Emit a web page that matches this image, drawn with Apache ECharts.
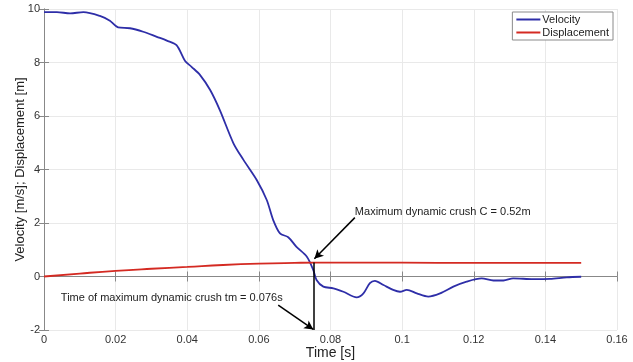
<!DOCTYPE html>
<html><head><meta charset="utf-8">
<script src="https://cdn.jsdelivr.net/npm/echarts@6/dist/echarts.min.js"></script>
<style>html,body{margin:0;padding:0;background:#fff}#c{width:633px;height:362px}</style>
</head><body><div id="c"></div>
<script>
const xTicks = [0, 0.02, 0.04, 0.06, 0.08, 0.1, 0.12, 0.14, 0.16];
const yTicks = [-2, 0, 2, 4, 6, 8, 10];
const velT = [0, 0.0036, 0.0073, 0.011, 0.0156, 0.0184, 0.0207, 0.024, 0.0277, 0.0315, 0.0343, 0.037, 0.0394, 0.0412, 0.0436, 0.0464, 0.0491, 0.0529, 0.0557, 0.0594, 0.0622, 0.064, 0.0659, 0.0682, 0.0705, 0.0734, 0.0752, 0.0761, 0.078, 0.0808, 0.0836, 0.0873, 0.0892, 0.091, 0.0924, 0.0948, 0.0975, 0.0994, 0.1013, 0.1041, 0.1073, 0.1106, 0.1143, 0.118, 0.1222, 0.1255, 0.1283, 0.131, 0.1366, 0.1413, 0.146, 0.15];
const velV = [9.88, 9.88, 9.84, 9.88, 9.74, 9.56, 9.31, 9.28, 9.15, 8.96, 8.82, 8.65, 8.06, 7.84, 7.53, 6.97, 6.22, 4.98, 4.36, 3.61, 2.86, 2.11, 1.61, 1.47, 1.11, 0.74, 0.24, -0.13, -0.38, -0.44, -0.57, -0.78, -0.63, -0.25, -0.16, -0.32, -0.5, -0.57, -0.5, -0.63, -0.75, -0.63, -0.38, -0.19, -0.07, -0.15, -0.15, -0.07, -0.1, -0.09, -0.03, -0.01];
const dispT = [0, 0.01, 0.02, 0.03, 0.04, 0.05, 0.06, 0.07, 0.076, 0.09, 0.11, 0.13, 0.15];
const dispV = [0, 0.11, 0.21, 0.29, 0.36, 0.43, 0.48, 0.51, 0.52, 0.52, 0.51, 0.51, 0.51];
const crushT = 0.0753;
const crushC = 0.52;
const noteCrush = {text: 'Maximum dynamic crush C = 0.52m', at: [0.0868, 2.41], from: [0.0868, 2.2], to: [0.0755, 0.66]};
const noteTime = {text: 'Time of maximum dynamic crush tm = 0.076s', at: [0.0047, -0.8], from: [0.0654, -1.07], to: [0.0752, -1.98]};

const zip = (a, b) => a.map((x, i) => [x, b[i]]);
const chart = echarts.init(document.getElementById('c'));
const font = 'Liberation Sans, Arial, sans-serif';
const baseAxis = {
  axisLine: {show: true, lineStyle: {color: '#888', width: 1}},
  axisTick: {show: true, inside: true, length: 5, lineStyle: {color: '#888'}},
  splitLine: {show: false}
};
chart.setOption({
  animation: false,
  backgroundColor: '#fff',
  grid: {left: 44, right: 16, top: 9, bottom: 32, containLabel: false, outerBoundsMode: 'none'},
  legend: {
    orient: 'vertical', right: 20, top: 12,
    data: ['Velocity', 'Displacement'],
    icon: 'rect', itemWidth: 24, itemHeight: 2, itemGap: 2,
    padding: [2, 4, 2, 4],
    borderColor: '#8a8a8a', borderWidth: 1, backgroundColor: '#fff',
    textStyle: {fontFamily: font, fontSize: 11, color: '#222', padding: [0, 0, 0, -3]}
  },
  xAxis: [
    Object.assign({}, baseAxis, {
      type: 'value', min: xTicks[0], max: xTicks[xTicks.length - 1], interval: 0.02,
      name: 'Time [s]', nameLocation: 'middle', nameGap: 16, nameMoveOverlap: false,
      nameTextStyle: {fontFamily: font, fontSize: 14, color: '#222'},
      axisLabel: {fontFamily: font, fontSize: 11, color: '#333', margin: 4,
        formatter: v => String(+v.toFixed(2))},
      splitLine: {show: true, lineStyle: {color: '#e9e9e9', width: 1}}
    }),
    Object.assign({}, baseAxis, {
      type: 'value', position: 'top', min: 0, max: 0.16, interval: 0.02,
      axisLabel: {show: false}
    })
  ],
  yAxis: [
    Object.assign({}, baseAxis, {
      type: 'value', min: yTicks[0], max: yTicks[yTicks.length - 1], interval: 2,
      name: 'Velocity [m/s]; Displacement [m]', nameLocation: 'middle', nameGap: 17, nameMoveOverlap: false,
      nameTextStyle: {fontFamily: font, fontSize: 13, color: '#222'},
      axisLabel: {fontFamily: font, fontSize: 11, color: '#333', margin: 4},
      splitLine: {show: true, lineStyle: {color: '#e9e9e9', width: 1}}
    }),
    Object.assign({}, baseAxis, {
      type: 'value', position: 'right', min: -2, max: 10, interval: 2,
      axisLabel: {show: false}
    })
  ],
  series: [
    {
      name: 'Velocity', type: 'line', data: zip(velT, velV), smooth: 0.3,
      showSymbol: false, lineStyle: {color: '#2e2ea8', width: 1.8}, itemStyle: {color: '#2e2ea8'}
    },
    {
      name: 'Displacement', type: 'line', data: zip(dispT, dispV), smooth: true,
      showSymbol: false, lineStyle: {color: '#d42a22', width: 1.8}, itemStyle: {color: '#d42a22'}
    },
    {
      name: 'notes', type: 'line', data: [], silent: true,
      markLine: {
        silent: true, symbolSize: [7, 9],
        lineStyle: {color: '#000', width: 1.5, type: 'solid'},
        label: {show: false},
        data: [
          [{coord: noteCrush.from, symbol: 'none'}, {coord: noteCrush.to, symbol: 'arrow'}],
          [{coord: noteTime.from, symbol: 'none'}, {coord: noteTime.to, symbol: 'arrow'}],
          [{coord: [crushT, crushC], symbol: 'none'}, {coord: [crushT, yTicks[0]], symbol: 'none'}]
        ]
      },
      markPoint: {
        silent: true, symbol: 'circle', symbolSize: 0,
        label: {show: true, position: 'right', distance: 0, fontFamily: font, fontSize: 11, color: '#222'},
        data: [
          {coord: noteCrush.at, label: {formatter: noteCrush.text}},
          {coord: noteTime.at, label: {formatter: noteTime.text}}
        ]
      }
    }
  ]
});
</script></body></html>
